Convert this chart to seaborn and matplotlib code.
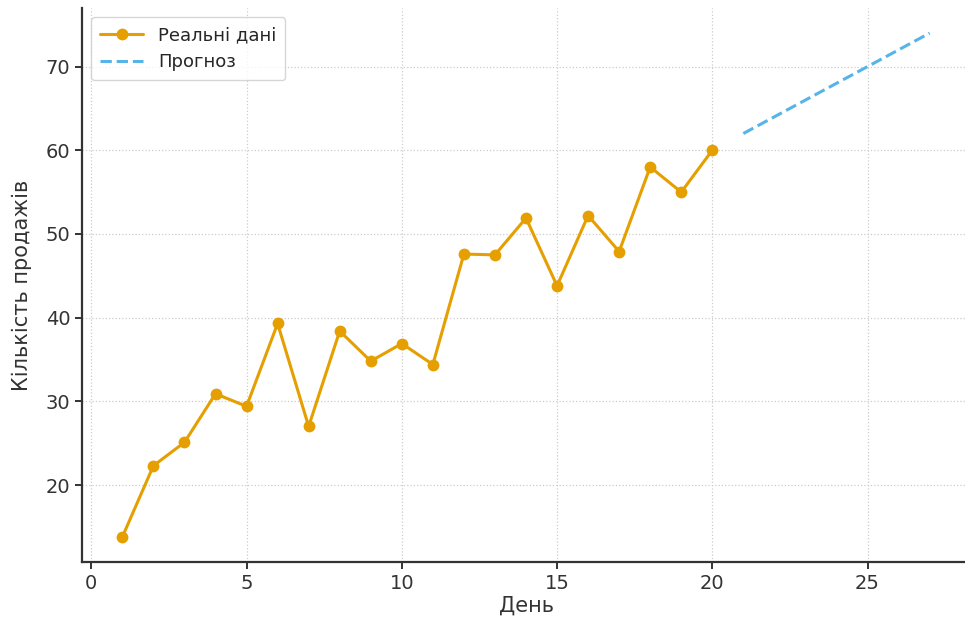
import numpy as np
import pandas as pd
import seaborn as sns
import matplotlib.pyplot as plt

# Дані: реальні продажі по днях
days = list(range(1, 21))
sales = [13.8, 22.3, 25.1, 30.9, 29.4, 39.3, 27.0, 38.4, 34.8, 36.9,
         34.4, 47.6, 47.5, 51.9, 43.8, 52.2, 47.9, 58.0, 55.0, 60.0]

# Прогноз
forecast_days = list(range(21, 28))
forecast_sales = [62, 64, 66, 68, 70, 72, 74]

real_df = pd.DataFrame({'День': days, 'Продажі': sales})
fc_df = pd.DataFrame({'День': forecast_days, 'Продажі': forecast_sales})

sns.set_style('ticks')
plt.rcParams['font.family'] = ['DejaVu Sans']

fig = plt.figure(figsize=(9.65, 6.25), dpi=100)
ax = fig.add_axes([82 / 965, 63 / 625, 888 / 965, 554 / 625])

sns.lineplot(data=real_df, x='День', y='Продажі', marker='o', color='#E69F00',
             linewidth=2.2, markersize=8.5, markeredgewidth=0, label='Реальні дані', ax=ax)
sns.lineplot(data=fc_df, x='День', y='Продажі', color='#56B4E9', linestyle='--',
             linewidth=2.2, label='Прогноз', ax=ax)

ax.set_xlim(-0.3, 28.3)
ax.set_ylim(10.8, 77.0)
ax.set_xticks([0, 5, 10, 15, 20, 25])
ax.set_yticks([20, 30, 40, 50, 60, 70])

ax.grid(True, linestyle=':', color='#cccccc', linewidth=0.9)
ax.set_axisbelow(True)
sns.despine(ax=ax)
for side in ['left', 'bottom']:
    ax.spines[side].set_color('#333333')
    ax.spines[side].set_linewidth(1.6)
ax.tick_params(labelsize=14, colors='#333333', width=1.4, length=5)

ax.set_xlabel('День', fontsize=15, color='#333333', labelpad=2)
ax.set_ylabel('Кількість продажів', fontsize=15, color='#333333', labelpad=10)

ax.legend(loc='upper left', fontsize=13, frameon=True, borderpad=0.5,
          handlelength=2.4)

fig.savefig('out.png', dpi=100)
